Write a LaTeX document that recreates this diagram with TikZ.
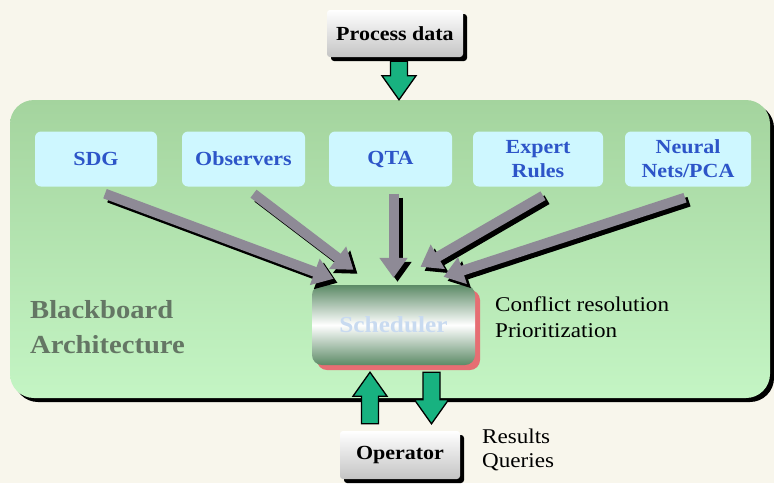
\documentclass[tikz,border=0pt]{standalone}
\usepackage{fontspec}
\setmainfont{Liberation Serif}[FakeStretch=1.1]
\usetikzlibrary{arrows.meta,calc,shadows}

\definecolor{cream}{RGB}{248,246,236}
\definecolor{boardtop}{RGB}{164,212,158}
\definecolor{boardbot}{RGB}{196,245,196}
\definecolor{srccyan}{RGB}{206,247,255}
\definecolor{srcblue}{RGB}{45,85,200}
\definecolor{feedgrey}{RGB}{142,138,150}
\definecolor{blockgreen}{RGB}{24,178,128}
\definecolor{archgrey}{RGB}{100,118,100}
\definecolor{schedgreen}{RGB}{92,138,102}
\definecolor{schedtext}{RGB}{200,218,240}
\definecolor{pinkshade}{RGB}{230,110,115}
\definecolor{boxgrey}{RGB}{196,196,196}

% vertical block arrows: #1 = foot, #2 = tip
\newcommand\downblock[2]{\draw[blockarrow] let \p1=#1, \p2=#2 in
  (\x1-8.5pt,\y1) -- (\x1+8.5pt,\y1) -- (\x1+8.5pt,\y2+24pt) -- (\x1+17pt,\y2+24pt)
  -- (\x1,\y2) -- (\x1-17pt,\y2+24pt) -- (\x1-8.5pt,\y2+24pt) -- cycle;}
\newcommand\upblock[2]{\draw[blockarrow] let \p1=#1, \p2=#2 in
  (\x1-8.5pt,\y1) -- (\x1+8.5pt,\y1) -- (\x1+8.5pt,\y2-24pt) -- (\x1+17pt,\y2-24pt)
  -- (\x1,\y2) -- (\x1-17pt,\y2-24pt) -- (\x1-8.5pt,\y2-24pt) -- cycle;}

\begin{document}
\begin{tikzpicture}[x=1pt,y=-1pt,
  board/.style={rounded corners=24pt, minimum width=760pt, minimum height=298pt, inner sep=0pt,
    top color=boardtop, bottom color=boardbot,
    drop shadow={shadow xshift=4pt, shadow yshift=-4pt, fill=black, opacity=1}},
  sourcebox/.style={fill=srccyan, rounded corners=6pt, minimum height=55pt, inner sep=0pt,
    text=srcblue, align=center, font=\fontsize{20}{24}\selectfont\bfseries},
  greybox/.style={rounded corners=3pt, inner sep=0pt, top color=white, bottom color=boxgrey,
    font=\fontsize{20}{24}\selectfont\bfseries,
    drop shadow={shadow xshift=4pt, shadow yshift=-4pt, fill=black, opacity=1}},
  schedbox/.style={rounded corners=10pt, minimum width=163pt, minimum height=80pt,
    top color=schedgreen, bottom color=schedgreen, middle color=white, text=schedtext,
    font=\fontsize{23}{26}\selectfont\bfseries,
    drop shadow={shadow xshift=5pt, shadow yshift=-5pt, fill=pinkshade, opacity=1}},
  feed/.style={line width=10pt, draw=feedgrey, -{Triangle[length=20pt,width=27pt]}},
  feedshadow/.style={feed, draw=black},
  blockarrow/.style={fill=blockgreen, draw=black, line width=1.3pt, line join=miter},
  notetext/.style={anchor=base west, inner sep=0pt, font=\fontsize{21}{26}\selectfont},
  bbtitle/.style={anchor=base west, inner sep=0pt, text=archgrey,
    font=\fontsize{26}{30}\selectfont\bfseries}
]
\useasboundingbox (0,0) rectangle (774,483);
\fill[cream] (0,0) rectangle (774,483);

% the blackboard
\node[board] (bb) at (390,249) {};

% knowledge sources
\node[sourcebox, minimum width=122pt] (sdg) at (96,159) {SDG};
\node[sourcebox, minimum width=123pt] (obs) at (243.5,159) {Observers};
\node[sourcebox, minimum width=123pt] (qta) at (390.5,159) {QTA};
\node[sourcebox, minimum width=130pt] (exp) at (538,159) {Expert\\Rules};
\node[sourcebox, minimum width=126pt] (nn) at (688,159) {Neural\\Nets/PCA};

% scheduler, inputs and operator
\node[schedbox] (sched) at (393.5,325) {Scheduler};
\node[greybox, minimum width=136pt, minimum height=47pt] (pd) at (395,33.5) {Process data};
\node[greybox, minimum width=120pt, minimum height=48pt] (op) at (400,455) {Operator};

% grey arrows from the sources to the scheduler, each with a black offset copy beneath
\coordinate (sdgtail) at ($(sdg.south)+(9,7)$);
\coordinate (obstail) at ($(obs.south)+(10,7)$);
\coordinate (qtatail) at ($(qta.south)+(3,7)$);
\coordinate (exptail) at ($(exp.south)+(5,9)$);
\coordinate (nntail)  at ($(nn.south)+(-3,11)$);
\coordinate (sdgtip) at ($(sched.north)+(-60,-6)$);
\coordinate (obstip) at ($(sched.north)+(-40,-15)$);
\coordinate (qtatip) at ($(sched.north)+(0,-7)$);
\coordinate (exptip) at ($(sched.north)+(27,-18)$);
\coordinate (nntip)  at ($(sched.north)+(50,-8)$);
\foreach \a/\b in {sdgtail/sdgtip, obstail/obstip, qtatail/qtatip, exptail/exptip, nntail/nntip}
  \draw[feedshadow] ($(\a)+(4,4)$) -- ($(\b)+(4,4)$);
\foreach \a/\b in {sdgtail/sdgtip, obstail/obstip, qtatail/qtatip, exptail/exptip, nntail/nntip}
  \draw[feed] (\a) -- (\b);

% green block arrows
\coordinate (pdfoot) at ($(pd.south)+(4,4)$);
\coordinate (pdtip) at (bb.north -| pdfoot);
\downblock{(pdfoot)}{(pdtip)}
\coordinate (upfoot) at ($(op.north)+(-30,-7)$);
\coordinate (uptip) at ($(sched.south)+(-24,7)$);
\upblock{(upfoot)}{(uptip)}
\coordinate (dnfoot) at ($(sched.south)+(38,7)$);
\coordinate (dntip) at ($(op.north)+(32,-7)$);
\downblock{(dnfoot)}{(dntip)}

% labels
\node[bbtitle] (bbA) at (30,318) {Blackboard};
\node[bbtitle] (bbB) at (30,353) {Architecture};
\node[notetext] (cr) at (495,311) {Conflict resolution};
\node[notetext] (pr) at (495,337) {Prioritization};
\node[notetext] (res) at (482,443) {Results};
\node[notetext] (qu) at (482,467) {Queries};
\end{tikzpicture}
\end{document}
